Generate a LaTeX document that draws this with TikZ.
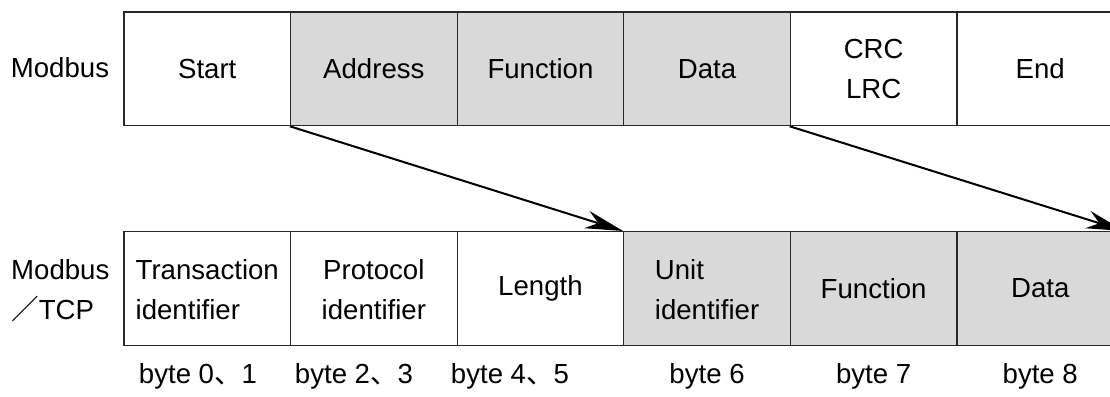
\documentclass[tikz,border=0pt]{standalone}
\usepackage{fontspec}
\setmainfont{Liberation Sans}
\newfontfamily\cjk{Noto Sans CJK SC}
\usetikzlibrary{arrows.meta}
\definecolor{cellgray}{RGB}{217,217,217}
\definecolor{linegray}{RGB}{40,40,40}
\newcommand{\twoline}[3]{%
  \vphantom{\begin{tabular}{@{}#1@{}}#2\\#3\end{tabular}}%
  \smash{\raisebox{-3pt}{\begin{tabular}{@{}#1@{}}#2\\#3\end{tabular}}}}
\tikzset{
  txt/.style={font=\fontsize{27.6}{40}\selectfont, inner sep=0pt},
  cell/.style={txt, draw=linegray, line width=1.3pt, anchor=north west,
    minimum width=166.6pt, minimum height=113.5pt, align=center},
  shaded/.style={cell, fill=cellgray},
  plain/.style={cell, fill=white},
  conn/.style={draw=black, line width=2pt,
    -{Stealth[length=38pt, width=18pt, inset=12pt]}},
}
\begin{document}
\begin{tikzpicture}[x=1pt, y=-1pt]
\useasboundingbox (0,0) rectangle (1110,396);
\clip (0,0) rectangle (1110,396);
% top row
\node[plain]  (start) at (123.3,11.5) {Start};
\node[shaded] (addr)  at (289.9,11.5) {Address};
\node[shaded] (func)  at (456.5,11.5) {Function};
\node[shaded] (data)  at (623.1,11.5) {Data};
\node[plain]  (crc)   at (789.7,11.5) {CRC\\LRC};
\node[plain]  (end)   at (956.3,11.5) {End};
% bottom row
\node[plain]  (trans) at (123.3,231) {\twoline{l}{Transaction}{identifier}};
\node[plain]  (proto) at (289.9,231) {\twoline{c}{Protocol}{identifier}};
\node[plain]  (len)   at (456.5,231) {Length};
\node[shaded] (unit)  at (623.1,231) {\twoline{l}{Unit}{identifier}};
\node[shaded] (func2) at (789.7,231) {Function};
\node[shaded] (data2) at (956.3,231) {Data};
% row labels
\node[txt] (lab1) at (60,68) {Modbus};
\node[txt, anchor=west, align=left] (lab2) at (11,290.5) {Modbus\\{\cjk ／}TCP};
% byte labels
\node[txt, anchor=base] (b1) at (198,383) {byte 0{\cjk 、}1};
\node[txt, anchor=base] (b2) at (354,383) {byte 2{\cjk 、}3};
\node[txt, anchor=base] (b3) at (510,383) {byte 4{\cjk 、}5};
\node[txt, anchor=base] (b4) at (unit.south |- 0,383) {byte 6};
\node[txt, anchor=base] (b5) at (func2.south |- 0,383) {byte 7};
\node[txt, anchor=base] (b6) at (data2.south |- 0,383) {byte 8};
% connectors
\draw[conn] (addr.south west) -- (unit.north west);
\draw[conn] (crc.south west) -- (data2.north east);
\end{tikzpicture}
\end{document}
